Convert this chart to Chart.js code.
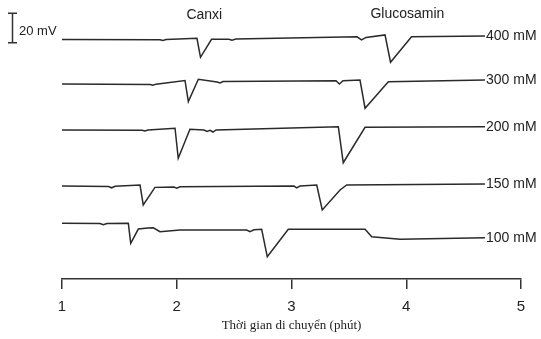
<!DOCTYPE html>
<html>
<head>
<meta charset="utf-8">
<script src="https://cdn.jsdelivr.net/npm/chart.js@4/dist/chart.umd.min.js"></script>
<style>
  body { margin: 0; background: #fff; }
  #wrap { width: 541px; height: 339px; position: relative; }
</style>
</head>
<body>
<div id="wrap"><canvas id="chart"></canvas></div>
<script>
// concentrations of the running buffer, top trace first
const concentrations = ["400 mM", "300 mM", "200 mM", "150 mM", "100 mM"];
// vertical offset of each trace (mV)
const baselines = [163.1, 132.8, 101.5, 63.3, 37.9];

// migration time (min) and signal (mV, relative to trace start)
const t400 = [1.000, 1.854, 1.880, 1.906, 2.176, 2.207, 2.303, 2.455, 2.481, 2.516, 3.571, 3.610, 3.650, 3.815, 3.863, 4.046, 4.686];
const mv400 = [0, -0.2, -0.7, 0, 0.8, -12.1, 0.1, 0.1, -0.5, 0.3, 1.8, -0.3, 1.4, 3.1, -15.5, 1.9, 2.4];

const t300 = [1.000, 1.767, 1.793, 1.819, 2.072, 2.101, 2.188, 2.351, 2.377, 2.403, 3.388, 3.417, 3.449, 3.597, 3.641, 3.844, 4.686];
const mv300 = [0, -0.3, -0.9, -0.1, 2.4, -12.0, 3.2, 1.4, 0.7, 1.7, 2.2, 0, 2.2, 2.7, -16.5, 1.6, 2.7];

const t200 = [1.000, 1.697, 1.723, 1.749, 1.985, 2.013, 2.115, 2.237, 2.264, 2.290, 2.316, 2.342, 3.408, 3.451, 3.641, 4.686];
const mv200 = [0, -0.2, -0.7, 0, 1.2, -19.3, 0.5, 0, -1.0, -0.3, -1.4, 0, 2.2, -22.3, 1.8, 2.2];

const t150 = [1.000, 1.405, 1.433, 1.462, 1.680, 1.708, 1.810, 1.976, 2.000, 2.028, 3.022, 3.045, 3.074, 3.220, 3.268, 3.423, 3.481, 4.686];
const mv150 = [0, -0.3, -1.2, -0.2, 0.7, -12.9, -0.9, -0.7, -1.4, -0.5, 0, -1.2, 0, 0.7, -16.3, -2.7, 0.7, 1.4];

const t100 = [1.000, 1.331, 1.360, 1.392, 1.578, 1.599, 1.665, 1.749, 1.796, 1.854, 2.028, 2.610, 2.638, 2.673, 2.740, 2.789, 2.972, 3.641, 3.699, 3.946, 4.686];
const mv100 = [0, -0.1, -1.0, -0.1, 0, -13.6, -3.9, -3.2, -3.0, -5.7, -4.6, -4.6, -5.7, -4.4, -4.1, -22.8, -4.1, -4.1, -9.1, -10.9, -9.8];

// peak names and where their labels sit (min)
const peakNames = ["Canxi", "Glucosamin"];
const peakLabelTimes = [2.24, 4.01];

const xTicks = [1, 2, 3, 4, 5];
const scaleBarMv = 20;

const allTimes = [t400, t300, t200, t150, t100];
const allSignals = [mv400, mv300, mv200, mv150, mv100];

const datasets = concentrations.map((name, i) => ({
    label: name,
    data: allTimes[i].map((t, j) => ({ x: t, y: baselines[i] + allSignals[i][j] })),
    borderColor: "#2a2a2a",
    borderWidth: 1.5,
    pointRadius: 0,
    tension: 0,
    fill: false
}));

const annotations = {
    id: "annotations",
    afterDatasetsDraw(chart) {
        let ctx = chart.ctx;
        let xs = chart.scales.x;
        let ys = chart.scales.y;
        ctx.save();
        ctx.fillStyle = "#222";
        ctx.strokeStyle = "#333";

        // trace names at the right end
        ctx.font = "14px Arial, 'Liberation Sans', sans-serif";
        ctx.textAlign = "left";
        ctx.textBaseline = "middle";
        chart.data.datasets.forEach((ds) => {
            let last = ds.data[ds.data.length - 1];
            ctx.fillText(ds.label, xs.getPixelForValue(last.x) + 1, ys.getPixelForValue(last.y));
        });

        // peak names above the top trace
        ctx.textAlign = "center";
        ctx.fillText(peakNames[0], xs.getPixelForValue(peakLabelTimes[0]), 15);
        ctx.fillText(peakNames[1], xs.getPixelForValue(peakLabelTimes[1]), 14);

        // 20 mV scale bar
        let yBot = ys.getPixelForValue(160.9);
        let yTop = ys.getPixelForValue(160.9 + scaleBarMv);
        let xb = 12.5;
        ctx.lineWidth = 1.5;
        ctx.beginPath();
        ctx.moveTo(xb, yTop); ctx.lineTo(xb, yBot);
        ctx.moveTo(xb - 4.5, yTop); ctx.lineTo(xb + 4.5, yTop);
        ctx.moveTo(xb - 4.5, yBot); ctx.lineTo(xb + 4.5, yBot);
        ctx.stroke();
        ctx.font = "13px Arial, 'Liberation Sans', sans-serif";
        ctx.textAlign = "left";
        ctx.fillText(scaleBarMv + " mV", 19, (yTop + yBot) / 2 + 3);
        ctx.restore();
    }
};

new Chart(document.getElementById("chart"), {
    type: "line",
    data: { datasets: datasets },
    options: {
        responsive: true,
        maintainAspectRatio: false,
        animation: false,
        layout: { padding: { left: 62, right: 20, top: 0, bottom: 0 } },
        plugins: {
            legend: { display: false },
            tooltip: { enabled: false }
        },
        scales: {
            x: {
                type: "linear",
                min: 1,
                max: 5,
                afterBuildTicks: (scale) => { scale.ticks = xTicks.map((v) => ({ value: v })); },
                afterFit: (scale) => { scale.height = 60; },
                grid: {
                    drawOnChartArea: false,
                    drawTicks: true,
                    tickLength: 10,
                    color: "#333",
                    lineWidth: 1.5
                },
                border: { display: true, color: "#333", width: 1.5 },
                ticks: {
                    color: "#222",
                    padding: 9,
                    font: { family: "Arial, 'Liberation Sans', sans-serif", size: 15 }
                },
                title: {
                    display: true,
                    text: "Thời gian di chuyển (phút)",
                    color: "#222",
                    font: { family: "'Liberation Serif', 'Times New Roman', serif", size: 13 },
                    padding: { top: 2, bottom: 6 }
                }
            },
            y: {
                display: false,
                min: 0,
                max: 190
            }
        }
    },
    plugins: [annotations]
});
</script>
</body>
</html>
